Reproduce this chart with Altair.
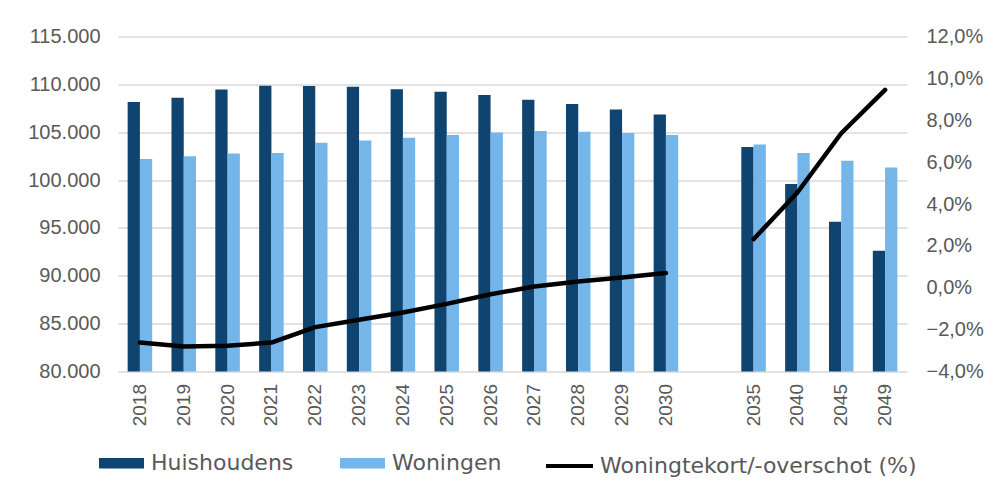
import altair as alt
import pandas as pd

# Categories (x axis), including an empty gap slot between 2030 and 2035
x_domain = ["2018", "2019", "2020", "2021", "2022", "2023", "2024", "2025", "2026",
            "2027", "2028", "2029", "2030", " ", "2035", "2040", "2045", "2049"]

jaren = ["2018", "2019", "2020", "2021", "2022", "2023", "2024", "2025", "2026",
         "2027", "2028", "2029", "2030", "2035", "2040", "2045", "2049"]

huishoudens = [108150, 108600, 109460, 109850, 109820, 109750, 109500, 109220, 108880,
               108390, 107940, 107370, 106850, 103450, 99580, 95640, 92610]

woningen = [102190, 102500, 102780, 102820, 103900, 104130, 104420, 104700, 104970,
            105120, 105040, 104910, 104700, 103720, 102820, 102010, 101310]

tekort_pct = [-2.62, -2.81, -2.77, -2.62, -1.88, -1.53, -1.18, -0.77, -0.31,
              0.06, 0.30, 0.49, 0.70, 2.32, 4.55, 7.38, 9.45]

periode = ["t/m 2030"] * 13 + ["na 2030"] * 4

reeksen = ["Huishoudens", "Woningen"]
lijn_label = "Woningtekort/-overschot (%)"

DARK = "#0F4470"
LIGHT = "#74B6EA"
GREY = "#595959"
GRID = "#d9d9d9"
AXIS_FONT = "Liberation Sans, Arial, sans-serif"
LEGEND_FONT = "DejaVu Sans, sans-serif"

bars_df = pd.DataFrame({
    "jaar": jaren * 2,
    "reeks": ["Huishoudens"] * len(jaren) + ["Woningen"] * len(jaren),
    "waarde": huishoudens + woningen,
})

line_df = pd.DataFrame({
    "jaar": jaren,
    "pct": tekort_pct,
    "periode": periode,
    "label": [lijn_label] * len(jaren),
})

x_enc = alt.X(
    "jaar:N",
    scale=alt.Scale(domain=x_domain, paddingInner=0.44, paddingOuter=0.22),
    sort=x_domain,
    axis=alt.Axis(
        title=None, labelAngle=-90, labelFontSize=19, labelFont=AXIS_FONT,
        labelColor=GREY, ticks=False, domain=False, labelPadding=12,
    ),
)

bars = alt.Chart(bars_df).mark_bar().encode(
    x=x_enc,
    xOffset=alt.XOffset("reeks:N", scale=alt.Scale(domain=reeksen, paddingInner=0, paddingOuter=0)),
    y=alt.Y(
        "waarde:Q",
        scale=alt.Scale(domain=[80000, 115000], nice=False, zero=False),
        axis=alt.Axis(
            title=None,
            values=list(range(80000, 115001, 5000)),
            labelExpr="replace(format(datum.value, ',.0f'), ',', '.')",
            grid=True, gridColor=GRID, gridWidth=1.5,
            domain=False, ticks=False, labelPadding=18,
            labelFontSize=20, labelFont=AXIS_FONT, labelColor=GREY,
        ),
    ),
    y2=alt.datum(80000),
    fill=alt.Fill(
        "reeks:N",
        scale=alt.Scale(domain=reeksen, range=[DARK, LIGHT]),
        legend=alt.Legend(
            title=None, orient="none", legendX=-19, legendY=404,
            direction="horizontal", padding=0,
            symbolType="M-1,-0.233H1V0.233H-1Z", symbolSize=2025,
            symbolStrokeWidth=0, symbolOpacity=1,
            labelFont=LEGEND_FONT, labelFontSize=22, labelColor=GREY,
            labelOffset=7, columnPadding=46, labelLimit=0,
        ),
    ),
)

line = alt.Chart(line_df).mark_line(strokeWidth=4.5, strokeCap="round", strokeJoin="round").encode(
    x=x_enc,
    y=alt.Y(
        "pct:Q",
        scale=alt.Scale(domain=[-4, 12], nice=False, zero=False),
        axis=alt.Axis(
            title=None, orient="right",
            values=[-4, -2, 0, 2, 4, 6, 8, 10, 12],
            labelExpr="replace(format(datum.value, '.1f'), '.', ',') + '%'",
            grid=False, domain=False, ticks=False, labelPadding=19,
            labelFontSize=20, labelFont=AXIS_FONT, labelColor=GREY,
        ),
    ),
    detail=alt.Detail("periode:N"),
    stroke=alt.Stroke(
        "label:N",
        scale=alt.Scale(domain=[lijn_label], range=["#000000"]),
        legend=alt.Legend(
            title=None, orient="none", legendX=426, legendY=404,
            direction="horizontal", padding=0,
            symbolType="stroke", symbolSize=2209, symbolStrokeWidth=4,
            labelFont=LEGEND_FONT, labelFontSize=22, labelColor=GREY,
            labelOffset=5, labelLimit=0,
        ),
    ),
)

chart = alt.layer(bars, line).resolve_scale(y="independent").properties(
    width=789,
    height=335,
    autosize=alt.AutoSizeParams(type="none"),
    padding={"left": 110, "top": 28.5, "right": 81, "bottom": 111.5},
    background="white",
).configure_view(stroke=None)

chart.save("out.html", embed_options={"renderer": "svg", "actions": False})
